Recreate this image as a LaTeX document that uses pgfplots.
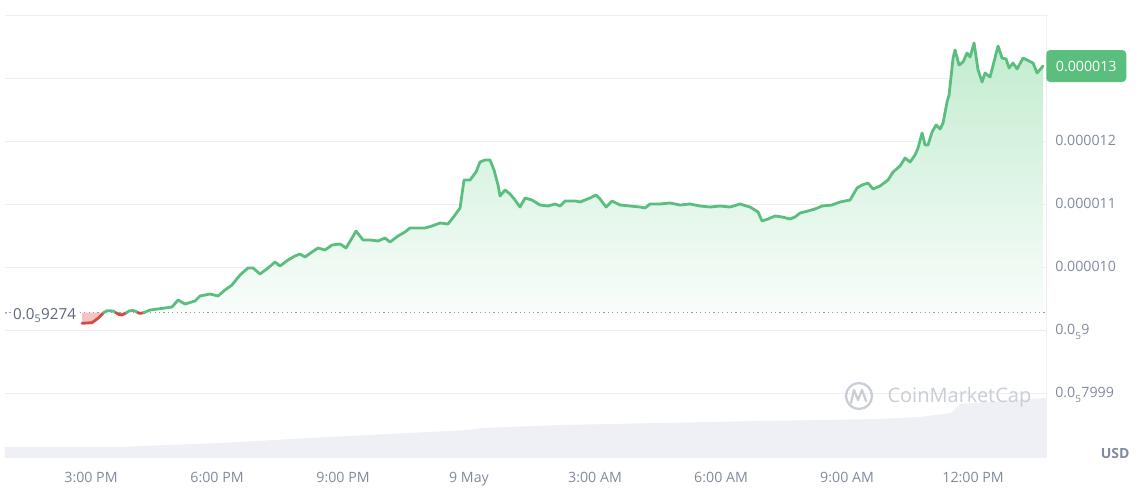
\documentclass[border=0pt]{standalone}
\usepackage{fontspec}
\setmainfont{Open Sans}
\usepackage{pgfplots}
\usepackage{pgfplotstable}
\pgfplotsset{compat=1.18}

\definecolor{upgreen}{RGB}{90,190,126}
\definecolor{upfill}{RGB}{194,236,207}
\definecolor{downred}{RGB}{214,72,66}
\definecolor{downfill}{RGB}{243,196,196}
\definecolor{gridc}{RGB}{236,238,242}
\definecolor{ticktext}{RGB}{128,138,157}
\definecolor{labeltext}{RGB}{92,103,124}
\definecolor{volc}{RGB}{238,240,245}
\definecolor{wmark}{RGB}{200,205,214}

% price in units of 1e-6 USD, x in hours from 8 May 00:00
\pgfplotstableread{
h v
16.250 9.274
16.405 9.317
16.762 9.349
16.929 9.365
17.071 9.476
17.238 9.413
17.476 9.460
17.595 9.540
17.833 9.571
18.024 9.540
18.190 9.635
18.357 9.714
18.548 9.873
18.738 9.984
18.857 9.984
19.024 9.889
19.214 9.984
19.381 10.079
19.500 10.016
19.690 10.111
19.857 10.175
19.976 10.206
20.095 10.159
20.262 10.238
20.405 10.302
20.571 10.270
20.738 10.349
20.929 10.365
21.071 10.302
21.214 10.460
21.310 10.571
21.476 10.429
21.643 10.429
21.833 10.413
22.000 10.460
22.119 10.397
22.310 10.492
22.476 10.556
22.595 10.619
22.786 10.619
22.952 10.619
23.119 10.651
23.310 10.698
23.500 10.683
23.667 10.825
23.786 10.937
23.881 11.381
24.024 11.381
24.167 11.508
24.262 11.667
24.381 11.698
24.500 11.698
24.595 11.540
24.690 11.302
24.738 11.127
24.857 11.222
24.976 11.159
25.095 11.063
25.214 10.952
25.333 11.095
25.500 11.063
25.690 10.984
25.881 10.968
26.048 11.000
26.167 10.968
26.286 11.048
26.524 11.048
26.643 11.032
26.881 11.095
27.024 11.143
27.119 11.079
27.262 10.952
27.405 11.048
27.595 10.984
27.833 10.968
28.071 10.952
28.190 10.937
28.310 11.000
28.548 11.000
28.786 11.016
29.024 10.984
29.262 11.000
29.500 10.968
29.738 10.952
29.976 10.968
30.214 10.952
30.452 11.000
30.690 10.952
30.881 10.873
30.976 10.730
31.119 10.762
31.286 10.810
31.452 10.794
31.643 10.762
31.762 10.794
31.881 10.857
32.071 10.889
32.238 10.921
32.405 10.968
32.643 10.984
32.833 11.032
33.071 11.063
33.238 11.254
33.357 11.302
33.500 11.333
33.619 11.238
33.786 11.286
33.976 11.381
34.095 11.508
34.262 11.603
34.381 11.730
34.500 11.667
34.619 11.778
34.690 11.889
34.786 12.127
34.857 11.937
34.929 11.937
35.024 12.143
35.119 12.254
35.214 12.190
35.286 12.286
35.381 12.619
35.429 12.730
35.524 13.317
35.571 13.444
35.667 13.206
35.762 13.254
35.857 13.397
35.929 13.333
36.024 13.556
36.119 13.127
36.214 12.937
36.286 13.079
36.405 13.016
36.595 13.508
36.690 13.317
36.786 13.302
36.857 13.159
36.952 13.238
37.048 13.143
37.190 13.317
37.429 13.238
37.524 13.079
37.667 13.190
}\upline

% volume, relative units (0-100 of axis height)
\pgfplotstableread{
h vol
12.952 2.48
15.619 2.48
18.071 3.38
20.667 4.73
23.976 6.31
24.333 6.76
26.167 7.43
28.524 7.88
30.929 8.33
33.738 8.78
34.738 9.23
35.476 10.14
35.690 12.16
36.000 12.39
37.738 13.51
}\volume

\begin{document}
\begin{tikzpicture}
\path[use as bounding box] (0pt,0pt) rectangle (1140pt,489pt);

% volume
\begin{axis}[
    at={(5pt,31pt)}, anchor=south west, scale only axis,
    width=1041pt, height=444pt,
    xmin=12.952, xmax=37.738, ymin=0, ymax=100,
    axis lines=none,
]
\addplot[fill=volc, draw=none] table[x=h, y=vol] {\volume} \closedcycle;
\end{axis}

% price
\begin{axis}[
    at={(5pt,31pt)}, anchor=south west, scale only axis,
    width=1041pt, height=444pt,
    xmin=12.952, xmax=37.738, ymin=6.968, ymax=14.016,
    axis line style={draw=none},
    major tick length=0pt,
    xtick={15,18,21,24,27,30,33,36},
    xticklabels={3:00 PM, 6:00 PM, 9:00 PM, 9 May, 3:00 AM, 6:00 AM, 9:00 AM, 12:00 PM},
    ytick={8,9,10,11,12,13,14},
    yticklabels={0.0\textsubscript{\raisebox{-2.5pt}{5}}7999, 0.0\textsubscript{\raisebox{-2.5pt}{5}}9, 0.000010, 0.000011, 0.000012, {}, {}},
    yticklabel pos=right,
    ymajorgrids,
    major grid style={draw=gridc, line width=0.9pt},
    tick label style={font=\fontsize{14.2}{16}\selectfont, text=ticktext, inner sep=0pt},
    xticklabel style={anchor=base, yshift=-25pt},
    yticklabel style={anchor=base west, xshift=9pt, yshift=-5pt},
    clip=false,
]
% green area above the open price
\addplot[draw=none, top color=upfill, bottom color=upfill!10!white]
    table[x=h, y=v] {\upline} |- (axis cs:16.250,9.274) -- cycle;
% red areas below the open price
\addplot[draw=none, fill=downfill] coordinates {
    (14.786,9.106) (15.024,9.116) (15.167,9.186) (15.298,9.274) (14.786,9.274)};
\addplot[draw=none, fill=downfill] coordinates {
    (15.595,9.274) (15.667,9.246) (15.738,9.238) (15.810,9.262) (15.845,9.274)};
\addplot[draw=none, fill=downfill] coordinates {
    (16.119,9.274) (16.167,9.264) (16.214,9.269) (16.250,9.274)};
% right border
\addplot[draw=gridc, line width=0.9pt] coordinates {(37.738,6.968) (37.738,14.016)};
% open price
\addplot[draw={rgb,255:red,150;green,156;blue,168}, line width=1.2pt,
    dash pattern=on 1.2pt off 3.2pt] coordinates {(12.952,9.274) (37.738,9.274)};
% price line
\addplot[downred, line width=2.8pt, line join=round, line cap=round] coordinates {
    (14.786,9.106) (15.024,9.116) (15.167,9.186) (15.298,9.274)};
\addplot[upgreen, line width=2.8pt, line join=round, line cap=round] coordinates {
    (15.298,9.274) (15.381,9.306) (15.524,9.302) (15.595,9.274)};
\addplot[downred, line width=2.8pt, line join=round, line cap=round] coordinates {
    (15.595,9.274) (15.667,9.246) (15.738,9.238) (15.810,9.262) (15.845,9.274)};
\addplot[upgreen, line width=2.8pt, line join=round, line cap=round] coordinates {
    (15.845,9.274) (15.905,9.302) (16.000,9.310) (16.071,9.294) (16.119,9.274)};
\addplot[downred, line width=2.8pt, line join=round, line cap=round] coordinates {
    (16.119,9.274) (16.167,9.264) (16.214,9.269) (16.250,9.274)};
\addplot[upgreen, line width=2.8pt, line join=round, line cap=round]
    table[x=h, y=v] {\upline};
% latest price tag
\node[anchor=west, fill=upgreen, rounded corners=4pt, text=white,
    font=\fontsize{14.2}{16}\selectfont, minimum height=32pt, minimum width=80pt]
    at (axis cs:37.738,13.19) {0.000013};
\end{axis}

% open price label
\node[anchor=base west, fill=white, inner sep=1pt, text=labeltext,
    font=\fontsize{15.2}{17}\selectfont] at (12pt,169.5pt) {0.0\textsubscript{\raisebox{-1pt}{5}}9274};
\fill[labeltext!70] (6pt,176pt) circle (1pt);

% currency
\node[anchor=base east, text=ticktext, font=\fontsize{14}{16}\selectfont\bfseries]
    at (1133pt,30.5pt) {USD};

% watermark
\draw[wmark, line width=2.3pt] (859pt,93pt) circle (13pt);
\draw[wmark, line width=2.2pt, line join=round, line cap=round]
    (851pt,86pt) -- (854pt,99pt) -- (858pt,89pt) -- (862pt,99pt) -- (866pt,88pt);
\node[anchor=west, text=wmark, font=\fontsize{20}{22}\selectfont]
    at (884pt,92pt) {CoinMarketCap};
\end{tikzpicture}
\end{document}
